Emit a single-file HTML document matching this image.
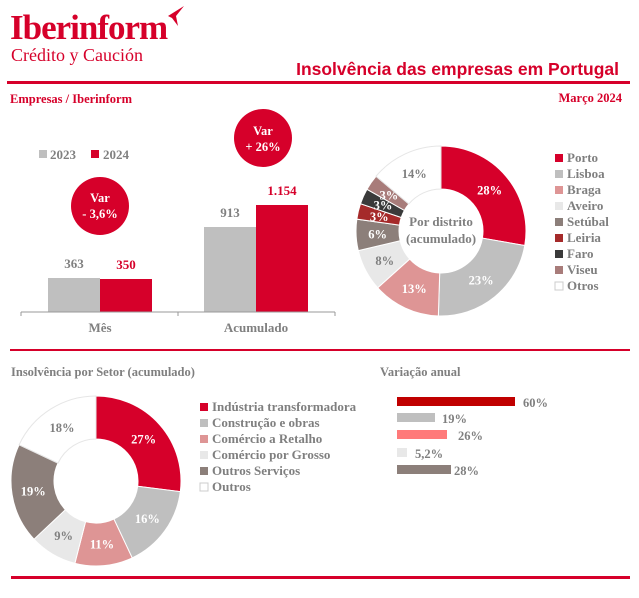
<!DOCTYPE html>
<html><head><meta charset="utf-8"><style>
body{margin:0;background:#fff;width:639px;height:593px;overflow:hidden;font-family:"Liberation Serif",serif;}
svg text{font-family:"Liberation Serif",serif;font-weight:bold;}
</style></head><body>
<svg id="s" width="639" height="593" xmlns="http://www.w3.org/2000/svg">
<text x="10" y="39" font-size="35" fill="#d6002a" letter-spacing="-1">Iberinform</text>
<path d="M168 16 L184 6 L176 16 L178 26 L172 18 Z" fill="#d6002a"/>
<text x="11" y="61" font-size="18" fill="#d6002a" style="font-weight:normal">Crédito y Caución</text>
<text x="619" y="75" font-size="17.5" fill="#d6002a" text-anchor="end" style="font-family:'Liberation Sans',sans-serif">Insolvência das empresas em Portugal</text>
<rect x="7" y="81" width="623" height="3" fill="#d6002a"/>
<text x="10" y="103" font-size="12.5" fill="#d6002a">Empresas / Iberinform</text>
<text x="622" y="102" font-size="12.5" fill="#d6002a" text-anchor="end">Março 2024</text>
<rect x="39" y="150" width="8" height="8" fill="#bfbfbf"/><text x="50" y="159" font-size="13" fill="#808080">2023</text>
<rect x="91" y="150" width="8" height="8" fill="#d6002a"/><text x="103" y="159" font-size="13" fill="#808080">2024</text>
<rect x="48" y="278" width="52" height="34" fill="#bfbfbf"/>
<rect x="100" y="279" width="52" height="33" fill="#d6002a"/>
<rect x="204" y="227" width="52" height="85" fill="#bfbfbf"/>
<rect x="256" y="205" width="52" height="107" fill="#d6002a"/>
<text x="74" y="268" font-size="13" fill="#808080" text-anchor="middle">363</text>
<text x="126" y="269" font-size="13" fill="#d6002a" text-anchor="middle">350</text>
<text x="230" y="217" font-size="13" fill="#808080" text-anchor="middle">913</text>
<text x="282" y="195" font-size="13" fill="#d6002a" text-anchor="middle">1.154</text>
<path d="M21 312 H335 M21 312 V316 M178 312 V316 M335 312 V316" stroke="#999" stroke-width="1" fill="none"/>
<text x="100" y="332" font-size="13" fill="#808080" text-anchor="middle">Mês</text>
<text x="256" y="332" font-size="13" fill="#808080" text-anchor="middle">Acumulado</text>
<circle cx="100" cy="206" r="29" fill="#d6002a"/>
<text x="100" y="202" font-size="12.5" fill="#fff" text-anchor="middle">Var</text>
<text x="100" y="218" font-size="12.5" fill="#fff" text-anchor="middle">- 3,6%</text>
<circle cx="263" cy="138" r="29" fill="#d6002a"/>
<text x="263" y="135" font-size="12.5" fill="#fff" text-anchor="middle">Var</text>
<text x="263" y="151" font-size="12.5" fill="#fff" text-anchor="middle">+ 26%</text>
<rect x="10" y="349" width="620" height="2" fill="#d6002a"/>
<g id="d1"></g>
<text x="441" y="226" font-size="13" fill="#7f7f7f" text-anchor="middle">Por distrito</text>
<text x="441" y="243" font-size="13" fill="#7f7f7f" text-anchor="middle">(acumulado)</text>
<g id="l1" font-size="13"></g>
<text x="11" y="376" font-size="12.5" fill="#7f7f7f">Insolvência por Setor (acumulado)</text>
<text x="380" y="376" font-size="12.5" fill="#7f7f7f">Variação anual</text>
<g id="d2"></g>
<g id="l2" font-size="13"></g>
<rect x="397" y="397" width="118" height="9" fill="#c00000"/><text x="523" y="407" font-size="12.5" fill="#7f7f7f">60%</text>
<rect x="397" y="413" width="38" height="9" fill="#bfbfbf"/><text x="442" y="423" font-size="12.5" fill="#7f7f7f">19%</text>
<rect x="397" y="430" width="50" height="9" fill="#ff7a7a"/><text x="458" y="440" font-size="12.5" fill="#7f7f7f">26%</text>
<rect x="397" y="448" width="10" height="9" fill="#e8e8e8"/><text x="415" y="458" font-size="12.5" fill="#7f7f7f">5,2%</text>
<rect x="397" y="465" width="54" height="9" fill="#8c7f7a"/><text x="454" y="475" font-size="12.5" fill="#7f7f7f">28%</text>
<rect x="11" y="576" width="619" height="3" fill="#d6002a"/>
</svg>
<script>
var NS="http://www.w3.org/2000/svg";
function el(t,a,p,txt){var e=document.createElementNS(NS,t);for(var k in a)e.setAttribute(k,a[k]);if(txt)e.textContent=txt;p.appendChild(e);return e;}
function donut(g,cx,cy,R,r,data){var tot=0;data.forEach(d=>tot+=d[0]);var a=0;
data.forEach(d=>{var a0=a/tot*2*Math.PI,a1=(a+d[0])/tot*2*Math.PI;a+=d[0];
function P(rad,ang){return [cx+rad*Math.sin(ang),cy-rad*Math.cos(ang)];}
var p1=P(R,a0),p2=P(R,a1),p3=P(r,a1),p4=P(r,a0),lg=(a1-a0)>Math.PI?1:0;
el("path",{d:"M"+p1+" A"+R+" "+R+" 0 "+lg+" 1 "+p2+" L"+p3+" A"+r+" "+r+" 0 "+lg+" 0 "+p4+"Z",fill:d[1],stroke:d[1]=="#fff"?"#e6e6e6":"#fff","stroke-width":1},g);
var m=(a0+a1)/2,q=P((R+r)/2+(d[3]||0),m);
el("text",{x:q[0],y:q[1]+4.5,"font-size":12.5,fill:d[2],"text-anchor":"middle"},g,d[4]);});}
donut(document.getElementById("d1"),441,231,85,42,[[28,"#d6002a","#fff",0,"28%"],[23,"#bfbfbf","#fff",0,"23%"],[13,"#de9595","#fff",0,"13%"],[8,"#e8e8e8","#7f7f7f",0,"8%"],[6,"#8c7f7a","#fff",0,"6%"],[3,"#a52a2a","#fff",0,"3%"],[3,"#3a3a3a","#fff",0,"3%"],[3,"#a87c7a","#fff",0,"3%"],[14,"#fff","#7f7f7f",0,"14%"]]);
donut(document.getElementById("d2"),96,481,85,42,[[27,"#d6002a","#fff",0,"27%"],[16,"#bfbfbf","#fff",0,"16%"],[11,"#de9595","#fff",0,"11%"],[9,"#e8e8e8","#7f7f7f",0,"9%"],[19,"#8c7f7a","#fff",0,"19%"],[18,"#fff","#7f7f7f",0,"18%"]]);
function legend(g,x,y,dy,items){items.forEach((it,i)=>{var yy=y+i*dy;el("rect",{x:x,y:yy-8,width:8,height:8,fill:it[1],stroke:it[1]=="#fff"?"#ccc":"none"},g);el("text",{x:x+12,y:yy,fill:"#7f7f7f"},g,it[0]);});}
legend(document.getElementById("l1"),555,162,16,[["Porto","#d6002a"],["Lisboa","#bfbfbf"],["Braga","#de9595"],["Aveiro","#e8e8e8"],["Setúbal","#8c7f7a"],["Leiria","#a52a2a"],["Faro","#3a3a3a"],["Viseu","#a87c7a"],["Otros","#fff"]]);
legend(document.getElementById("l2"),200,411,16,[["Indústria transformadora","#d6002a"],["Construção e obras","#bfbfbf"],["Comércio a Retalho","#de9595"],["Comércio por Grosso","#e8e8e8"],["Outros Serviços","#8c7f7a"],["Outros","#fff"]]);
</script>
</body></html>
